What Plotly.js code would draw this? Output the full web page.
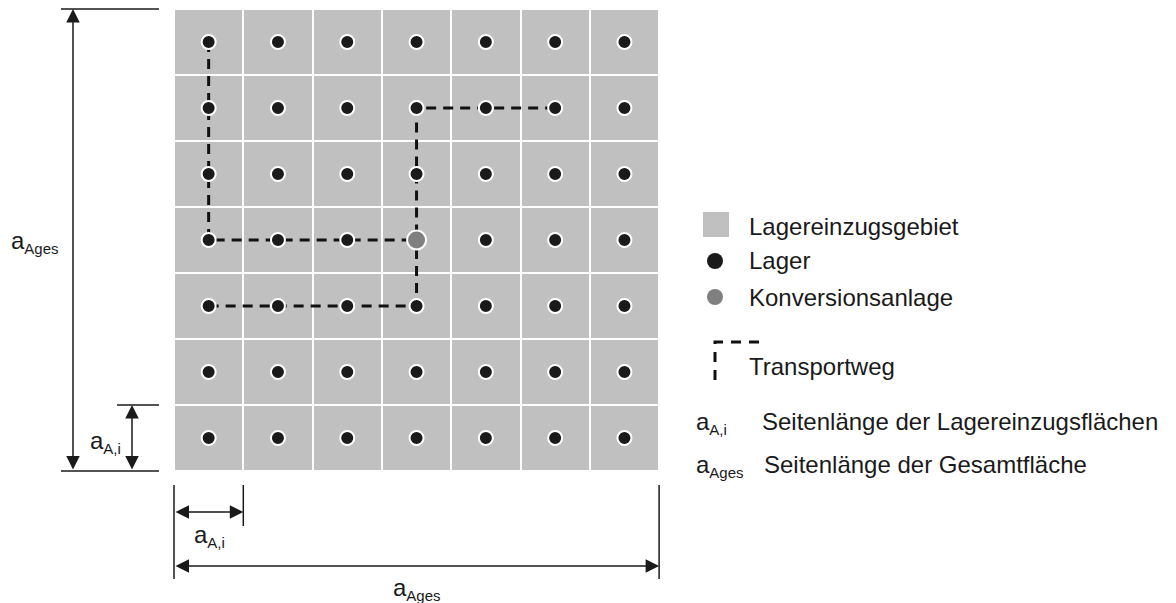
<!DOCTYPE html>
<html><head><meta charset="utf-8">
<script src="https://cdn.plot.ly/plotly-3.0.1.min.js"></script>
<style>html,body{margin:0;padding:0;background:#fff}#chart{width:1176px;height:603px}</style>
</head><body><div id="chart"></div><script>
// ---- data ----
const gridCols = [0, 1, 2, 3, 4, 5, 6];
const gridRows = [0, 1, 2, 3, 4, 5, 6]; // counted from the top
const anlageCol = 3, anlageRow = 3;    // Konversionsanlage
const routeACols = [0, 0, 3], routeARows = [0, 3, 3];
const routeBCols = [5, 3, 3], routeBRows = [1, 1, 3];
const routeCCols = [0, 3, 3], routeCRows = [4, 4, 3];
const legendLabels = ['Lagereinzugsgebiet', 'Lager', 'Konversionsanlage', 'Transportweg'];
const symbolMain = 'a';
const symbolSubs = ['A,i', 'Ages'];
const symbolTexts = ['Seitenlänge der Lagereinzugsflächen', 'Seitenlänge der Gesamtfläche'];

// ---- helpers ----
const N = gridCols.length;
const cx = c => c + 0.5;
const cy = r => N - 0.5 - r;
const W = 1176, H = 603;
const cellW = 69.3, cellH = 66, gx0 = 174, gyBottom = 471;
const px2x = p => (p - gx0) / cellW;
const py2y = p => (gyBottom - p) / cellH;
const PX = p => p / W, PY = p => 1 - p / H;
const FONT = '"Liberation Sans", Arial, sans-serif';
const INK = '#1a1a1a';
const sym = i => `${symbolMain}<sub><span style="font-size:15px">${symbolSubs[i]}</span></sub>`;

const traces = [];
// cells
traces.push({
  type: 'heatmap',
  x: gridCols.map(cx), y: gridRows.map(r => cy(r)),
  z: gridRows.map(() => gridCols.map(() => 1)),
  colorscale: [[0, '#c0c0c0'], [1, '#c0c0c0']],
  showscale: false, xgap: 2, ygap: 2, hoverinfo: 'skip'
});
// routes
[[routeACols, routeARows], [routeBCols, routeBRows], [routeCCols, routeCRows]].forEach(([cs, rs]) => {
  traces.push({
    type: 'scatter', mode: 'lines',
    x: cs.map(cx), y: rs.map(cy),
    line: {color: '#111', width: 3, dash: '10px,7px'},
    hoverinfo: 'skip'
  });
});
// Lager dots
const lx = [], ly = [];
gridRows.forEach(r => gridCols.forEach(c => {
  if (!(c === anlageCol && r === anlageRow)) { lx.push(cx(c)); ly.push(cy(r)); }
}));
traces.push({
  type: 'scatter', mode: 'markers', x: lx, y: ly,
  marker: {size: 14, color: INK, line: {color: '#fff', width: 2}}, hoverinfo: 'skip'
});
traces.push({
  type: 'scatter', mode: 'markers', x: [cx(anlageCol)], y: [cy(anlageRow)],
  marker: {size: 19, color: '#808080', line: {color: '#fff', width: 2}}, hoverinfo: 'skip'
});

// ---- dimension lines ----
const shapes = [];
const ln = (x0, y0, x1, y1) => shapes.push({
  type: 'line', xref: 'x', yref: 'y', x0, y0, x1, y1,
  line: {color: INK, width: 1.5}
});
ln(px2x(61), N, px2x(159), N);
ln(px2x(61), 0, px2x(159), 0);
ln(px2x(117), 1, px2x(159), 1);
ln(0, py2y(485), 0, py2y(579));
ln(N, py2y(485), N, py2y(579));
ln(1, py2y(485), 1, py2y(526));

const annotations = [];
const arrow = (x0, y0, x1, y1) => annotations.push({
  x: x1, y: y1, ax: x0, ay: y0, xref: 'x', yref: 'y', axref: 'x', ayref: 'y',
  text: '', showarrow: true, arrowside: 'end+start',
  arrowhead: 2, startarrowhead: 2, arrowsize: 1.8, startarrowsize: 1.8,
  arrowwidth: 1.5, arrowcolor: INK, standoff: 0, startstandoff: 0
});
arrow(px2x(73), 0, px2x(73), N);
arrow(px2x(132), 0, px2x(132), 1);
arrow(0, py2y(512), 1, py2y(512));
arrow(0, py2y(566), N, py2y(566));

const txt = (text, x, y, ref, size) => annotations.push({
  text, x, y, xref: ref || 'x', yref: ref || 'y', xanchor: 'left', yanchor: 'middle',
  showarrow: false, font: {family: FONT, size: size || 24, color: INK}
});
txt(sym(1), px2x(9), py2y(242));
txt(sym(0), px2x(88), py2y(442));
txt(sym(0), px2x(192), py2y(536));
txt(sym(1), px2x(391), py2y(589));

// ---- legend ----
shapes.push({type: 'rect', xref: 'paper', yref: 'paper',
  x0: PX(703), x1: PX(729), y0: PY(212), y1: PY(237), fillcolor: '#c0c0c0', line: {width: 0}});
shapes.push({type: 'circle', xref: 'paper', yref: 'paper',
  x0: PX(707), x1: PX(723), y0: PY(253), y1: PY(269), fillcolor: INK, line: {width: 0}});
shapes.push({type: 'circle', xref: 'paper', yref: 'paper',
  x0: PX(707), x1: PX(723), y0: PY(289), y1: PY(305), fillcolor: '#808080', line: {width: 0}});
shapes.push({type: 'path', xref: 'paper', yref: 'paper',
  path: `M${PX(715)},${PY(380)} L${PX(715)},${PY(342)} L${PX(759)},${PY(342)}`,
  line: {color: '#111', width: 3, dash: '10px,8px'}});
txt(legendLabels[0], PX(747), PY(226), 'paper');
txt(legendLabels[1], PX(747), PY(261), 'paper');
txt(legendLabels[2], PX(747), PY(297), 'paper');
txt(legendLabels[3], PX(747), PY(366), 'paper');
txt(sym(0), PX(694), PY(423), 'paper');
txt(symbolTexts[0], PX(760), PY(421), 'paper');
txt(sym(1), PX(694), PY(466), 'paper');
txt(symbolTexts[1], PX(762), PY(464), 'paper');

const layout = {
  width: W, height: H, margin: {l: 0, r: 0, t: 0, b: 0},
  paper_bgcolor: '#fff', plot_bgcolor: '#fff', showlegend: false,
  xaxis: {range: [px2x(0), px2x(W)], visible: false, fixedrange: true},
  yaxis: {range: [py2y(H), py2y(0)], visible: false, fixedrange: true},
  shapes, annotations
};
Plotly.newPlot('chart', traces, layout, {staticPlot: true, displayModeBar: false});
</script></body></html>
